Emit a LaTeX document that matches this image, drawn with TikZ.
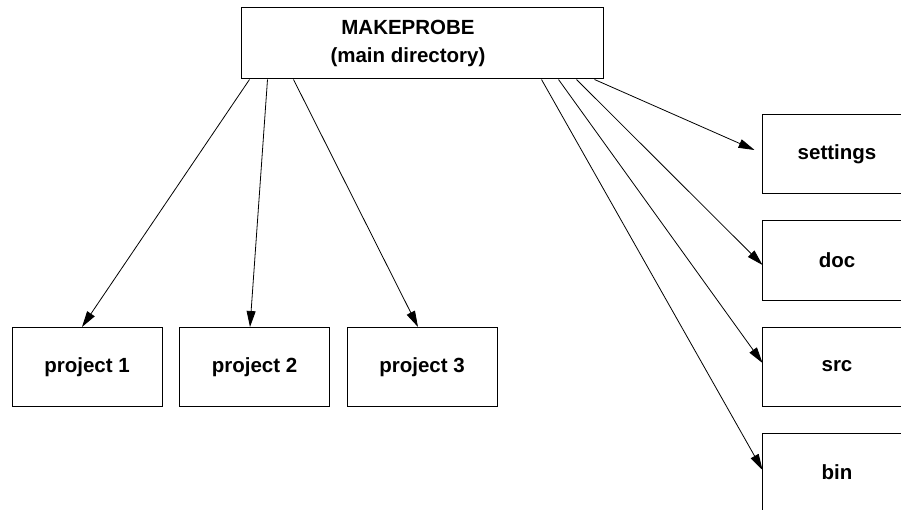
\documentclass[tikz,border=0pt]{standalone}
\usepackage{fontspec}
\setmainfont{Liberation Sans}
\usetikzlibrary{arrows.meta,calc}
\begin{document}
\begin{tikzpicture}[x=1pt,y=-1pt,
  box/.style={draw,line width=1pt,minimum width=150pt,minimum height=79pt,inner sep=0pt,
    font=\fontsize{20.5}{28}\selectfont\bfseries},
  conn/.style={line width=0.8pt,-{Triangle[length=16pt,width=9pt]}}]
\useasboundingbox (0,0) rectangle (901,510);
\node[draw,line width=1pt,minimum width=362pt,minimum height=71pt,inner sep=0pt] (main) at (422,43.5) {};
\node[font=\fontsize{20.5}{28}\selectfont\bfseries,align=center] (title) at (408,43) {MAKEPROBE\\(main directory)};
\node[box] (p1) at (87,367) {project 1};
\node[box] (p2) at (254.5,367) {project 2};
\node[box] (p3) at (422,367) {project 3};
\node[box] (set) at (837,154.5) {settings};
\node[box] (doc) at (837,260.5) {doc};
\node[box] (src) at (837,366.5) {src};
\node[box] (bin) at (837,472.5) {bin};
\draw[conn] ($(main.south west)+(9,0)$) -- ($(p1.north)+(-5,0)$);
\draw[conn] ($(main.south west)+(27,0)$) -- ($(p2.north)+(-4.5,0)$);
\draw[conn] ($(main.south west)+(53,0)$) -- ($(p3.north)+(-4,0)$);
\draw[conn] ($(main.south west)+(301,0)$) -- ($(bin.west)+(1,-2.5)$);
\draw[conn] ($(main.south west)+(318,0)$) -- ($(src.west)+(1,-3.5)$);
\draw[conn] ($(main.south west)+(336,0)$) -- ($(doc.west)+(1,4.5)$);
\draw[conn] ($(main.south west)+(354,0)$) -- ($(set.west)+(-7,-4.5)$);
\end{tikzpicture}
\end{document}
